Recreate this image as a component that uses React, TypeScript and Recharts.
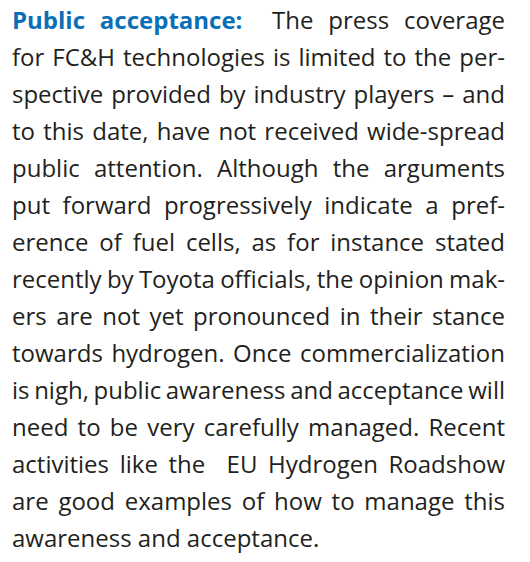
import { Surface, Layer } from 'recharts'

const FONT = '"Open Sans", sans-serif'
const SIZE = 24
const LEFT = 12
const RIGHT = 505
const FIRST_BASELINE = 29
const LEADING = 37
const BLUE = '#0a6fb7'
const INK = '#231f20'

type Run = { text: string; bold?: boolean }

const heading: Run = { text: 'Public acceptance:', bold: true }

const lines: Run[][] = [
  [heading, { text: '  The press coverage' }],
  [{ text: 'for FC&H technologies is limited to the per-' }],
  [{ text: 'spective provided by industry players – and' }],
  [{ text: 'to this date, have not received wide-spread' }],
  [{ text: 'public attention. Although the arguments' }],
  [{ text: 'put forward progressively indicate a pref-' }],
  [{ text: 'erence of fuel cells, as for instance stated' }],
  [{ text: 'recently by Toyota officials, the opinion mak-' }],
  [{ text: 'ers are not yet pronounced in their stance' }],
  [{ text: 'towards hydrogen. Once commercialization' }],
  [{ text: 'is nigh, public awareness and acceptance will' }],
  [{ text: 'need to be very carefully managed. Recent' }],
  [{ text: 'activities like the  EU Hydrogen Roadshow' }],
  [{ text: 'are good examples of how to manage this' }],
  [{ text: 'awareness and acceptance.' }],
]

let ctx: CanvasRenderingContext2D | null = null
function measure(text: string, bold?: boolean) {
  if (!ctx) ctx = document.createElement('canvas').getContext('2d')
  if (!ctx) return text.length * SIZE * 0.5
  ctx.font = `${bold ? 700 : 400} ${SIZE}px ${FONT}`
  return ctx.measureText(text).width
}

function wordSpacing(line: Run[], justify: boolean) {
  if (!justify) return 0
  const natural = line.reduce((s, r) => s + measure(r.text, r.bold), 0)
  const gaps = line.reduce((s, r) => s + (r.text.match(/ /g) || []).length, 0)
  return gaps ? (RIGHT - LEFT - natural) / gaps : 0
}

export default function App() {
  return (
    <div style={{ margin: -8, width: 530, height: 562, background: '#fff' }}>
      <Surface width={530} height={562}>
        <Layer>
          {lines.map((line, i) => (
            <text
              key={i}
              x={LEFT}
              y={FIRST_BASELINE + i * LEADING}
              fontFamily={FONT}
              fontSize={SIZE}
              fill={INK}
              style={{ whiteSpace: 'pre', wordSpacing: wordSpacing(line, i < lines.length - 1) }}
            >
              {line.map((r, j) => (
                <tspan key={j} fontWeight={r.bold ? 700 : 400} fill={r.bold ? BLUE : INK}>
                  {r.text}
                </tspan>
              ))}
            </text>
          ))}
        </Layer>
      </Surface>
    </div>
  )
}
